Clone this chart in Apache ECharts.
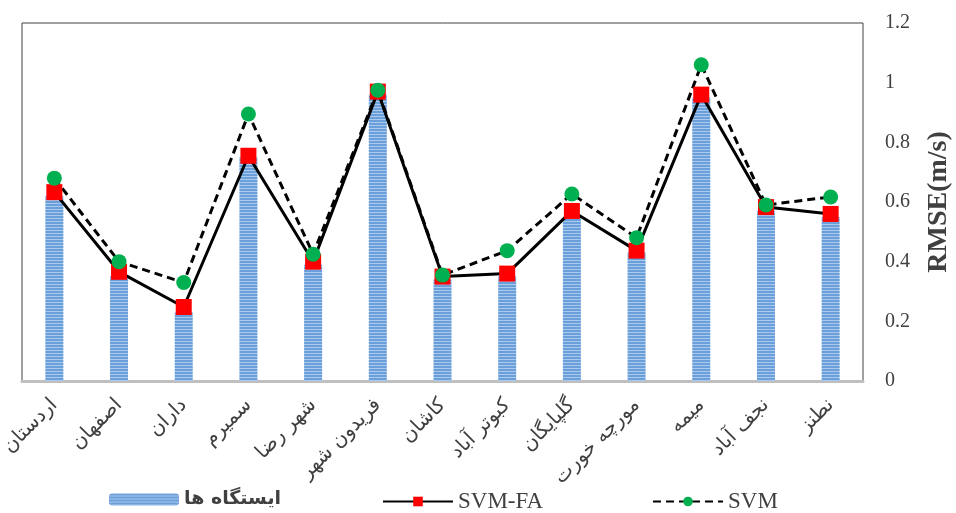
<!DOCTYPE html>
<html>
<head>
<meta charset="utf-8">
<script src="https://cdn.jsdelivr.net/npm/echarts@6/dist/echarts.min.js"></script>
<style>
  html, body { margin: 0; padding: 0; background: #fff; }
  #main { width: 956px; height: 513px; }
</style>
</head>
<body>
<div id="main"></div>
<script>
// stations (x categories)
var stations = ['اردستان', 'اصفهان', 'داران', 'سمیرم', 'شهر رضا', 'فریدون شهر', 'کاشان',
    'کبوتر آباد', 'گلپایگان', 'مورچه خورت', 'میمه', 'نجف آباد', 'نطنز'];
var barValues = [0.62, 0.35, 0.23, 0.75, 0.39, 0.96, 0.34, 0.35, 0.55, 0.43, 0.95, 0.57, 0.55];
var svmFa = [0.633, 0.366, 0.248, 0.755, 0.40, 0.97, 0.35, 0.36, 0.57, 0.437, 0.96, 0.583, 0.56];
var svm = [0.68, 0.40, 0.33, 0.895, 0.425, 0.975, 0.355, 0.437, 0.627, 0.48, 1.06, 0.59, 0.617];
var yTicks = [0, 0.2, 0.4, 0.6, 0.8, 1, 1.2];

// striped fill for the bars
function stripes() {
    var c = document.createElement('canvas');
    c.width = 4; c.height = 3;
    var ctx = c.getContext('2d');
    ctx.fillStyle = '#6a9fd9';
    ctx.fillRect(0, 0, 4, 3);
    ctx.fillStyle = '#a9c9ee';
    ctx.fillRect(0, 2, 4, 1);
    return c;
}

var chart = echarts.init(document.getElementById('main'));

function legendAt(left, name, extra) {
    var l = {
        left: left, top: 485,
        itemWidth: 70, itemHeight: 12,
        textStyle: { fontFamily: 'Liberation Serif', fontSize: 23, color: '#404040' },
        data: [name]
    };
    if (extra) l.textStyle = Object.assign(l.textStyle, extra);
    return l;
}

var option = {
    animation: false,
    grid: {
        left: 22, right: 93, top: 23, bottom: 132,
        outerBoundsMode: 'none',
        show: true, borderColor: '#404040', borderWidth: 1
    },
    legend: [
        legendAt(104, 'ایستگاه ها', { fontFamily: 'DejaVu Sans', fontWeight: 'bold', fontSize: 19 }),
        legendAt(377, 'SVM-FA'),
        legendAt(647, 'SVM')
    ],
    xAxis: {
        type: 'category',
        data: stations,
        axisLine: { lineStyle: { color: '#bfbfbf', width: 3 } },
        axisTick: { show: false },
        axisLabel: {
            rotate: 45, interval: 0, margin: 21,
            fontFamily: 'DejaVu Sans', fontSize: 20, color: '#404040'
        }
    },
    yAxis: {
        type: 'value',
        position: 'right',
        min: 0, max: 1.2, interval: 0.2,
        splitLine: { show: false },
        axisLine: { show: false },
        axisTick: { show: false },
        axisLabel: {
            margin: 22, fontFamily: 'Liberation Serif', fontSize: 20, color: '#404040',
            formatter: function (v) {
                for (var i = 0; i < yTicks.length; i++) {
                    if (Math.abs(yTicks[i] - v) < 1e-6) return String(yTicks[i]);
                }
                return '';
            }
        },
        name: 'RMSE(m/s)',
        nameLocation: 'middle',
        nameRotate: 90,
        nameGap: 62,
        nameTextStyle: { fontFamily: 'Liberation Serif', fontWeight: 'bold', fontSize: 28, color: '#404040' }
    },
    series: [
        {
            name: 'ایستگاه ها',
            type: 'bar',
            data: barValues,
            barWidth: 18,
            itemStyle: { color: { image: stripes(), repeat: 'repeat' } }
        },
        {
            name: 'SVM-FA',
            type: 'line',
            data: svmFa,
            symbol: 'rect',
            symbolSize: 16,
            lineStyle: { color: '#000', width: 3 },
            itemStyle: { color: '#ff0000' }
        },
        {
            name: 'SVM',
            type: 'line',
            data: svm,
            symbol: 'circle',
            symbolSize: 15,
            lineStyle: { color: '#000', width: 3, type: [8, 5] },
            itemStyle: { color: '#00b050' }
        }
    ]
};

chart.setOption(option);
</script>
</body>
</html>
